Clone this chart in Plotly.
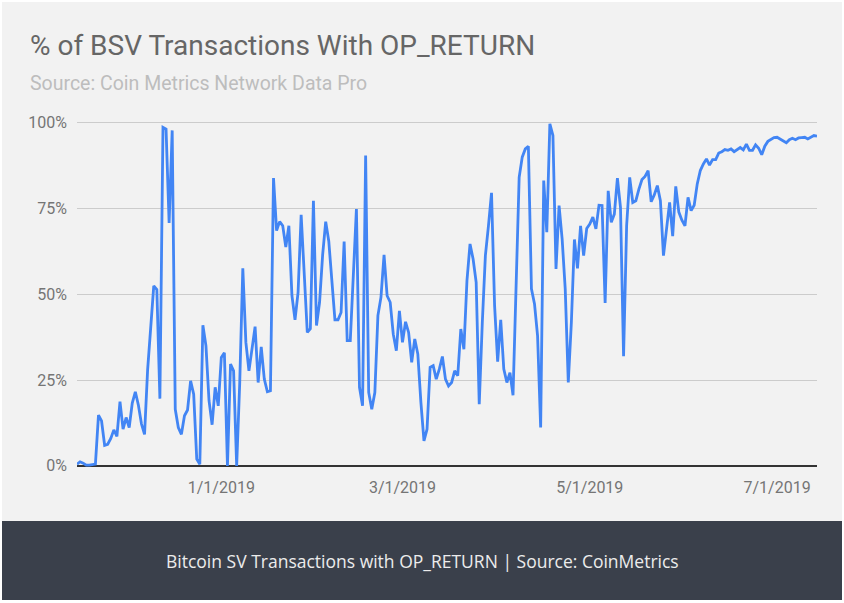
import plotly.graph_objects as go
import pandas as pd

# daily share of BSV transactions carrying OP_RETURN, starting 2018-11-15
start_date = "2018-11-15"
pct_op_return = [
    0.5, 1.2, 0.8, 0.2, 0.2, 0.3, 0.5, 14.8, 13.1, 6.0,
    6.3, 8.0, 10.5, 8.6, 18.7, 10.7, 14.1, 11.2, 18.3, 21.6,
    17.7, 12.2, 9.2, 28, 40, 52.5, 51.4, 19.6, 98.7, 98.2,
    70.8, 97.8, 16.5, 11.2, 9.2, 14.6, 16.3, 24.8, 20.9, 2.0,
    0.5, 41, 35, 19, 12, 22.9, 17.5, 31.6, 33, 0,
    29.7, 27.7, 0, 24.3, 57.6, 36, 27.7, 34, 40.6, 24.3,
    34.7, 25.3, 21.6, 21.9, 83.9, 68.6, 71.2, 70, 63.8, 70,
    49.6, 42.6, 50.6, 73.2, 56.4, 38.9, 40, 77.3, 40.9, 47.7,
    61.5, 71.2, 65.5, 52.5, 42.6, 42.6, 44.7, 65.4, 36.5, 36.5,
    55.4, 74.9, 22.9, 17.5, 90.5, 21.4, 16.5, 21.4, 43.8, 49.2,
    61.5, 49.6, 47.7, 38.4, 33.6, 45.2, 36, 42, 38.9, 30.2,
    37, 32.6, 18.5, 7.3, 10.7, 28.7, 29.2, 25.3, 28.2, 31.9,
    25.3, 23.3, 24.3, 27.7, 26.3, 39.9, 34, 54, 64.7,
    60.3, 53.5, 18, 41.8, 61.3, 70, 79.6, 46.7, 30.4, 42.6,
    28.2, 24.3, 27.2, 20.6, 55, 84.1, 90, 92.4, 93.2, 51.6,
    47.2, 37.9, 11.2, 83.2, 68.1, 99.7, 96.3, 57.4, 75.9, 66.1,
    51.6, 24.3, 41.8, 66, 57.6, 70, 61.3, 69.2, 70.5, 72.5,
    69.1, 76, 75.9, 47.5, 80.2, 71, 73.4, 83.9, 75.4, 32,
    70, 84.1, 76.8, 77.3, 80.7, 83.5, 84.4, 86.1, 77, 79,
    81.7, 77.3, 61.3, 70, 76.8, 67, 81.5, 74, 71.6, 70,
    78.3, 74.4, 76, 82.2, 86.1, 88, 89.5, 87.7, 89.3, 89.3,
    91.2, 91.6, 92.2, 92, 92.4, 91.6, 92.2, 92.8, 92.1, 93.8,
    92, 92, 93.6, 92.6, 90.7, 93.2, 94.6, 95.1, 95.7, 95.8,
    95.3, 94.6, 94.2, 95.1, 95.5, 95.1, 95.6, 95.7, 95.8, 95.3,
    95.9, 96.3, 96.1,
]
dates = pd.date_range(start_date, periods=len(pct_op_return), freq="D")

tick_dates = ["2019-01-01", "2019-03-01", "2019-05-01", "2019-07-01"]
tick_labels = ["1/1/2019", "3/1/2019", "5/1/2019", "7/1/2019"]
y_ticks = [0, 25, 50, 75, 100]
y_labels = [f"{v}%" for v in y_ticks]

title = "% of BSV Transactions With OP_RETURN"
subtitle = "Source: Coin Metrics Network Data Pro"
caption = "Bitcoin SV Transactions with OP_RETURN | Source: CoinMetrics"

W, H = 844, 603
PLOT_L, PLOT_R, PLOT_T, PLOT_B = 77, 817, 116, 470


def px_x(px):
    return (px - PLOT_L) / (PLOT_R - PLOT_L)


def px_y(py):
    return (PLOT_B - py) / (PLOT_B - PLOT_T)


fig = go.Figure()
fig.add_trace(go.Scatter(
    x=dates,
    y=pct_op_return,
    mode="lines",
    line=dict(color="#4285f4", width=2.8),
    hovertemplate="%{x|%-m/%-d/%Y}: %{y:.1f}%<extra></extra>",
))

fig.update_layout(
    width=W, height=H,
    margin=dict(l=PLOT_L, r=W - PLOT_R, t=PLOT_T, b=H - PLOT_B),
    paper_bgcolor="white",
    plot_bgcolor="#f2f2f2",
    showlegend=False,
    font=dict(family="Roboto", color="#757575"),
    xaxis=dict(
        range=[dates[0], dates[-1]],
        tickvals=tick_dates,
        ticktext=tick_labels,
        showgrid=False,
        showline=False,
        zeroline=False,
        ticks="",
        tickfont=dict(family="Roboto", size=16, color="#757575"),
        ticklabelstandoff=6,
    ),
    yaxis=dict(
        range=[-1.2, 102],
        tickvals=y_ticks,
        ticktext=y_labels,
        showgrid=True,
        gridcolor="#cccccc",
        gridwidth=1,
        zeroline=True,
        zerolinecolor="#333333",
        zerolinewidth=1.5,
        showline=False,
        ticks="",
        tickfont=dict(family="Roboto", size=16, color="#757575"),
        ticklabelstandoff=9,
    ),
    shapes=[
        # light card behind the chart
        dict(type="rect", xref="paper", yref="paper", layer="below",
             x0=px_x(2), x1=px_x(842), y0=px_y(521), y1=px_y(2),
             fillcolor="#f2f2f2", line=dict(width=0)),
        # dark caption banner
        dict(type="rect", xref="paper", yref="paper", layer="below",
             x0=px_x(2), x1=px_x(842), y0=px_y(600), y1=px_y(521),
             fillcolor="#3a404b", line=dict(width=0)),
    ],
    annotations=[
        dict(text=title, xref="paper", yref="paper", x=px_x(28), y=px_y(45),
             xanchor="left", yanchor="middle", showarrow=False,
             font=dict(family="Roboto", size=28, color="#666666")),
        dict(text=subtitle, xref="paper", yref="paper", x=px_x(28), y=px_y(83),
             xanchor="left", yanchor="middle", showarrow=False,
             font=dict(family="Roboto", size=19.5, color="#bdbdbd")),
        dict(text=caption, xref="paper", yref="paper", x=px_x(422), y=px_y(561),
             xanchor="center", yanchor="middle", showarrow=False,
             font=dict(family="Open Sans", size=17.5, color="#ececec")),
    ],
)

# the page's default body margin would push the figure 8px right and down
fig.write_html("out.html", config={"displayModeBar": False},
               post_script="document.body.style.margin='0';")
